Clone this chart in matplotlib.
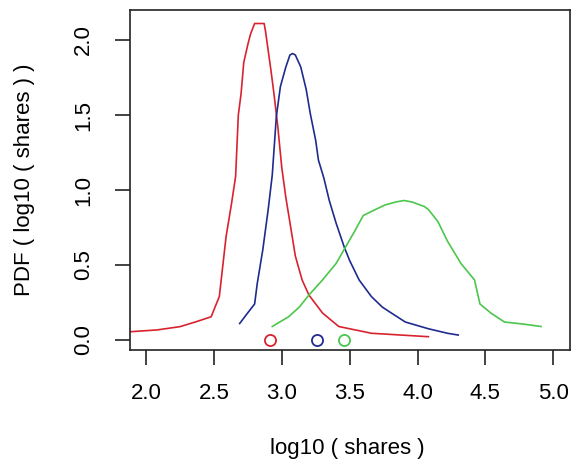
import matplotlib
matplotlib.use("Agg")
import matplotlib.pyplot as plt

# densidades (x = log10(shares), y = PDF)
red_x = [1.88, 2.08, 2.25, 2.37, 2.48, 2.54, 2.59, 2.63, 2.66, 2.68, 2.70, 2.72, 2.75,
         2.77, 2.80, 2.87, 2.88, 2.90, 2.92, 2.94, 2.97, 3.00, 3.03, 3.05, 3.10, 3.15,
         3.20, 3.30, 3.42, 3.66, 4.08]
red_y = [0.055, 0.067, 0.089, 0.122, 0.155, 0.29, 0.69, 0.91, 1.09, 1.50, 1.64, 1.85, 1.97,
         2.04, 2.11, 2.11, 2.06, 1.93, 1.80, 1.66, 1.43, 1.15, 0.95, 0.84, 0.56, 0.40,
         0.30, 0.18, 0.09, 0.045, 0.022]

blue_x = [2.69, 2.74, 2.80, 2.82, 2.86, 2.90, 2.93, 2.96, 2.99, 3.03, 3.06, 3.08, 3.10,
          3.14, 3.18, 3.21, 3.25, 3.27, 3.31, 3.35, 3.40, 3.46, 3.50, 3.57, 3.66, 3.74,
          3.79, 3.91, 4.08, 4.22, 4.30]
blue_y = [0.11, 0.17, 0.24, 0.38, 0.60, 0.87, 1.10, 1.49, 1.69, 1.82, 1.90, 1.91, 1.90,
          1.82, 1.67, 1.51, 1.33, 1.20, 1.08, 0.93, 0.78, 0.62, 0.53, 0.40, 0.29, 0.22,
          0.19, 0.12, 0.075, 0.045, 0.033]

green_x = [2.93, 3.05, 3.13, 3.20, 3.30, 3.40, 3.47, 3.54, 3.60, 3.69, 3.76, 3.84, 3.90,
           3.96, 4.05, 4.08, 4.15, 4.22, 4.32, 4.42, 4.46, 4.54, 4.64, 4.79, 4.91]
green_y = [0.09, 0.155, 0.22, 0.30, 0.40, 0.51, 0.62, 0.73, 0.83, 0.87, 0.90, 0.92, 0.93,
           0.92, 0.89, 0.87, 0.79, 0.66, 0.51, 0.40, 0.24, 0.18, 0.12, 0.105, 0.09]

# medianas marcadas no eixo
medianas = [2.915, 3.256, 3.456]
cores = ['#d8232f', '#1f2b8e', '#4cc64c']

xticks = [2.0, 2.5, 3.0, 3.5, 4.0, 4.5, 5.0]
yticks = [0.0, 0.5, 1.0, 1.5, 2.0]

plt.rcParams['font.family'] = ['Liberation Sans', 'DejaVu Sans']
FS = 16

fig = plt.figure(figsize=(5.78, 4.70), dpi=100)
ax = fig.add_axes([0.2249, 0.2553, 0.7612, 0.7234])

ax.plot(red_x, red_y, color=cores[0], lw=1.2)
ax.plot(blue_x, blue_y, color=cores[1], lw=1.2)
ax.plot(green_x, green_y, color=cores[2], lw=1.2)
for m, c in zip(medianas, cores):
    ax.plot(m, 0, 'o', mfc='none', mec=c, ms=8, mew=1.3)

ax.set_xlim(1.882, 5.123)
ax.set_ylim(-0.0667, 2.2)
ax.set_xticks(xticks)
ax.set_xticklabels([f'{v:.1f}' for v in xticks])
ax.set_yticks(yticks)
ax.set_yticklabels([f'{v:.1f}' for v in yticks])

for s in ax.spines.values():
    s.set_linewidth(1.2)
    s.set_color('#222222')

ax.tick_params(axis='both', length=11, width=1.2, color='#222222', labelsize=FS)
ax.tick_params(axis='x', pad=13)
ax.tick_params(axis='y', pad=15, labelrotation=90)
for lab in ax.get_yticklabels():
    lab.set_va('center')

ax.set_xlabel('log10 ( shares )', fontsize=FS)
ax.set_ylabel('PDF ( log10 ( shares ) )', fontsize=FS)
ax.xaxis.set_label_coords(0.493, -0.259)
ax.yaxis.set_label_coords(-0.216, 0.5)

fig.savefig('out.png', dpi=100)
